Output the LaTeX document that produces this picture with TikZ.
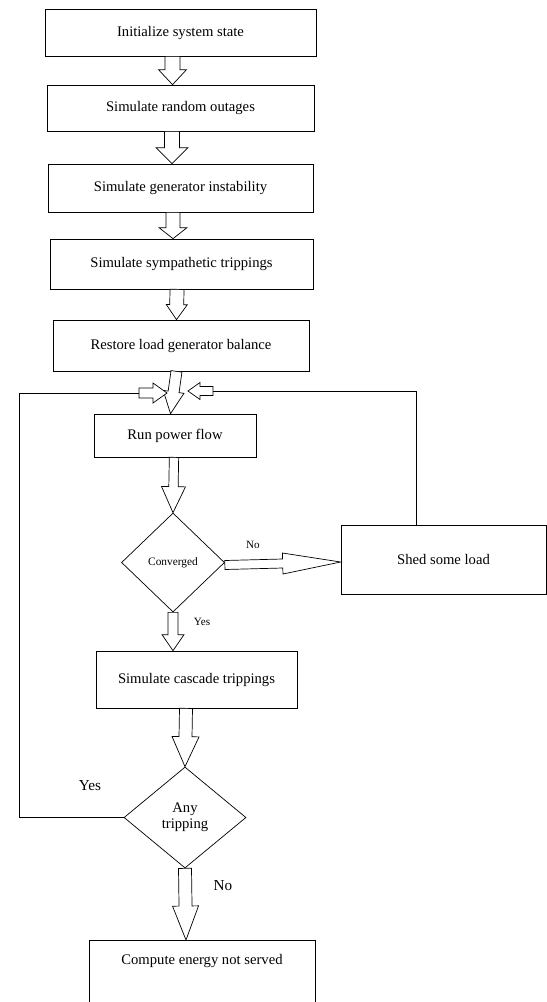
\documentclass[tikz,border=0pt]{standalone}
\usepackage{fontspec}
\setmainfont{Liberation Serif}
\usetikzlibrary{shapes.geometric, calc, positioning}

% hollow block arrow: start, tip, shaft half width, head half width, head length
\newcommand{\blkarr}[5]{%
  \coordinate (ba0) at #1;
  \coordinate (ba2) at #2;
  \coordinate (ba1) at ($(ba2)!#5!(ba0)$);
  \draw[fill=white] ($(ba0)!#3!90:(ba2)$) -- ($(ba1)!#3!-90:(ba0)$) -- ($(ba1)!#4!-90:(ba0)$)
    -- (ba2) -- ($(ba1)!#4!90:(ba0)$) -- ($(ba1)!#3!90:(ba0)$) -- ($(ba0)!#3!-90:(ba2)$) -- cycle;}

\begin{document}
\begin{tikzpicture}[x=0.3mm, y=-0.3mm, line width=0.6pt]
        \tikzstyle{box}=[draw, rectangle, inner sep=0pt, font=\fontsize{12.5}{14}\selectfont]
        \tikzstyle{dec}=[draw, diamond, inner sep=0pt, align=center]
        \tikzstyle{small}=[inner sep=0pt, font=\fontsize{9.5}{11}\selectfont]
        \tikzstyle{big}=[inner sep=0pt, font=\fontsize{13}{15}\selectfont]

        \useasboundingbox (0,0) rectangle (547,1002);
        \clip (0,0) rectangle (547,1002);

        % Main chain of boxes
        \node (init)[box, minimum width=81.3mm, minimum height=14.1mm] at (180.5,32.5) {Initialize system state};
        \node (outage)[box, minimum width=80.1mm, minimum height=13.8mm] at (180.5,108) {Simulate random outages};
        \node (instab)[box, minimum width=79.5mm, minimum height=14.4mm] at (180.5,188) {Simulate generator instability};
        \node (symp)[box, minimum width=78.9mm, minimum height=15mm] at (181.5,264) {Simulate sympathetic trippings};
        \node (restore)[box, minimum width=76.8mm, minimum height=15.3mm] at (181,345.5) {Restore load generator balance};
        \node (runpf)[box, minimum width=48.6mm, minimum height=12.9mm] at (175,435.5) {Run power flow};

        % Decisions
        \node (conv)[dec, minimum width=30.9mm, minimum height=29.7mm, font=\fontsize{9.7}{11}\selectfont] at (173,562.5) {Converged};
        \node (anytrip)[dec, minimum width=36.6mm, minimum height=30.3mm, font=\fontsize{12.5}{14}\selectfont] at (185,817.5) {Any\\tripping};

        % Side and lower boxes
        \node (shed)[box, minimum width=61.5mm, minimum height=20.7mm] at (443.5,559.5) {Shed some load};
        \node (cascade)[box, minimum width=60.3mm, minimum height=17.1mm] at (196.5,679.5) {Simulate cascade trippings};
        \node (ens)[box, anchor=north, minimum width=67.8mm, minimum height=21mm, inner ysep=4.2mm, text height=3mm, text depth=9.6mm] at (202,940) {Compute energy not served};

        % Block arrows down the chain
        \blkarr{([xshift=-2.4mm]init.south)}{([xshift=-2.4mm]outage.north)}{2.25mm}{4.2mm}{4.5mm}
        \blkarr{([xshift=-2.55mm]outage.south)}{([xshift=-2.55mm]instab.north)}{2.25mm}{4.8mm}{4.8mm}
        \blkarr{([xshift=-2.25mm]instab.south)}{([xshift=-2.55mm]symp.north)}{2.1mm}{4.2mm}{3.3mm}
        \blkarr{([xshift=-1.35mm]symp.south)}{([xshift=-1.35mm]restore.north)}{2.1mm}{3.15mm}{4.5mm}
        \blkarr{([xshift=-1.35mm]restore.south)}{([xshift=-1.35mm]runpf.north)}{1.65mm}{3.15mm}{6.6mm}
        \blkarr{([xshift=-0.3mm]runpf.south)}{(conv.north)}{1.4mm}{3.6mm}{7.8mm}
        \blkarr{(conv.south)}{([xshift=-7.05mm]cascade.north)}{1.5mm}{3.3mm}{4.8mm}
        \blkarr{([xshift=-3.15mm]cascade.south)}{(anytrip.north)}{1.95mm}{4.05mm}{9mm}
        \blkarr{(anytrip.south)}{([xshift=-4.8mm]ens.north)}{1.95mm}{3.9mm}{10.2mm}

        % Not converged: shed load
        \blkarr{([yshift=-0.75mm]conv.east)}{([yshift=-0.75mm]shed.west)}{1.35mm}{3.15mm}{17.4mm}

        % Feedback loops into run power flow
        \coordinate (lcorner) at (19,393);
        \coordinate (lj) at (139,393);
        \coordinate (ljt) at (167,393);
        \coordinate (rj) at (213,391);
        \coordinate (rjt) at (188,391);
        \draw (anytrip.west) -| (lcorner) -- (lj);
        \blkarr{(lj)}{(ljt)}{1.5mm}{3mm}{4.2mm}
        \draw ([xshift=-8.25mm]shed.north) |- (rj);
        \blkarr{(rj)}{(rjt)}{1.35mm}{2.55mm}{3.6mm}

        % Branch labels
        \node (noconv)[small] at (253,545) {No};
        \node (yesconv)[small] at (202,622) {Yes};
        \node (yestrip)[big] at (90,786) {Yes};
        \node (notrip)[big] at (223,886) {No};
\end{tikzpicture}
\end{document}
